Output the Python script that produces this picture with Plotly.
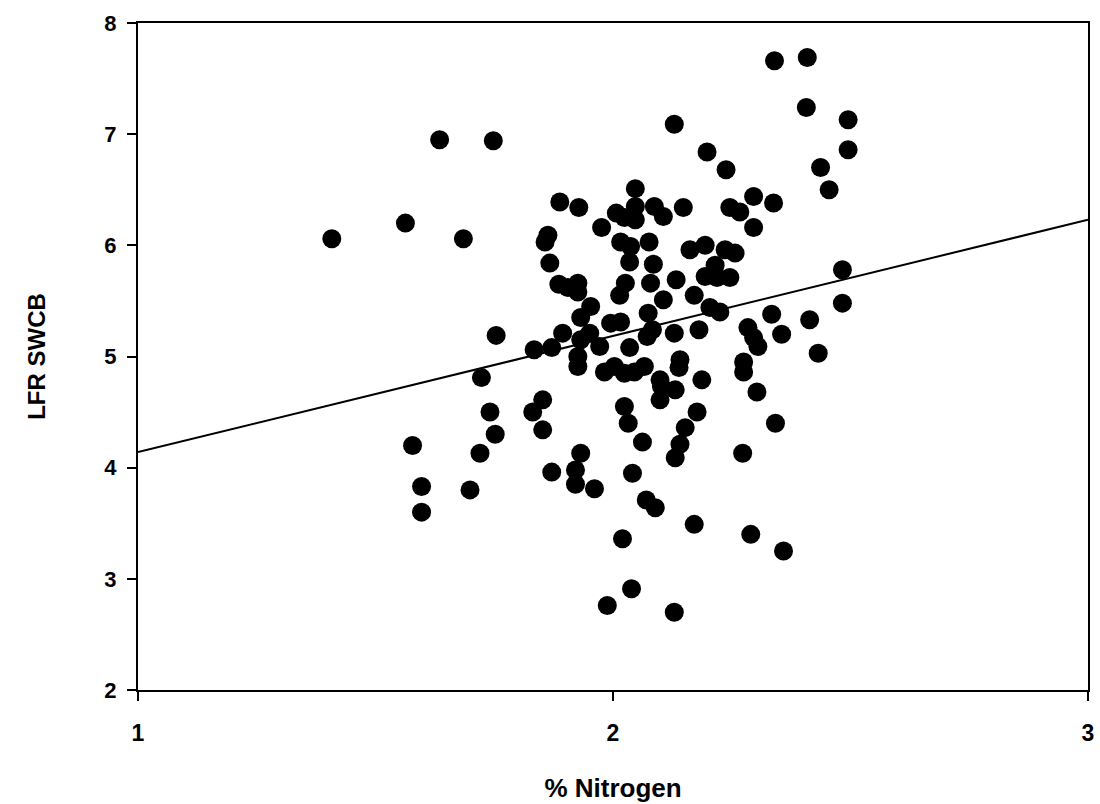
import plotly.graph_objects as go

# % Nitrogen (x) and LFR SWCB (y) values
nitrogen = [
    1.408, 1.563, 1.635, 1.748, 1.685, 1.578, 1.597, 1.597, 1.699, 1.720,
    1.723, 1.741, 1.752, 1.754, 1.834, 1.871, 1.852, 1.831, 1.852, 1.871,
    1.888, 1.928, 1.976, 2.007, 2.024, 2.047, 2.047, 2.047, 2.087, 2.106,
    2.148, 1.863, 1.857, 2.016, 2.037, 2.076, 2.162, 2.035, 1.867, 2.085,
    1.886, 1.905, 1.926, 1.926, 2.026, 2.014, 2.079, 2.133, 2.171, 2.106,
    1.953, 1.932, 2.074, 1.894, 1.995, 2.016, 2.083, 2.129, 2.181, 1.932,
    1.951, 1.926, 1.926, 1.972, 2.035, 2.072, 2.141, 1.982, 2.003, 2.024,
    2.045, 2.066, 2.099, 2.102, 2.099, 2.131, 2.139, 2.187, 2.024, 2.032,
    2.177, 2.152, 2.141, 2.131, 2.062, 1.932, 1.921, 1.921, 1.961, 2.041,
    2.070, 2.089, 2.171, 2.020, 2.039, 1.988, 2.129,
    2.129, 2.407, 2.340, 2.409, 2.495, 2.495, 2.198, 2.238, 2.437, 2.455,
    2.296, 2.338, 2.246, 2.267, 2.296, 2.194, 2.236, 2.257, 2.215, 2.194,
    2.219, 2.246, 2.204, 2.225, 2.483, 2.483, 2.334, 2.414, 2.355, 2.284,
    2.296, 2.305, 2.432, 2.275, 2.275, 2.303, 2.342, 2.273, 2.290, 2.359,
]
lfr_swcb = [
    6.06, 6.20, 6.95, 6.94, 6.06, 4.20, 3.83, 3.60, 3.80, 4.13,
    4.81, 4.50, 4.30, 5.19, 5.06, 5.08, 4.61, 4.50, 4.34, 3.96,
    6.39, 6.34, 6.16, 6.29, 6.25, 6.51, 6.35, 6.23, 6.35, 6.26,
    6.34, 6.09, 6.03, 6.03, 5.99, 6.03, 5.96, 5.85, 5.84, 5.83,
    5.65, 5.62, 5.66, 5.58, 5.66, 5.55, 5.66, 5.69, 5.55, 5.51,
    5.45, 5.35, 5.39, 5.21, 5.30, 5.31, 5.24, 5.21, 5.24, 5.15,
    5.21, 5.00, 4.91, 5.09, 5.08, 5.18, 4.97, 4.86, 4.91, 4.85,
    4.86, 4.91, 4.79, 4.73, 4.61, 4.70, 4.90, 4.79, 4.55, 4.40,
    4.50, 4.36, 4.21, 4.09, 4.23, 4.13, 3.98, 3.85, 3.81, 3.95,
    3.71, 3.64, 3.49, 3.36, 2.91, 2.76, 2.70,
    7.09, 7.24, 7.66, 7.69, 7.13, 6.86, 6.84, 6.68, 6.70, 6.50,
    6.44, 6.38, 6.34, 6.30, 6.16, 6.00, 5.96, 5.93, 5.82, 5.72,
    5.71, 5.71, 5.44, 5.40, 5.78, 5.48, 5.38, 5.33, 5.20, 5.26,
    5.17, 5.09, 5.03, 4.95, 4.86, 4.68, 4.40, 4.13, 3.40, 3.25,
]

# Regression line end points
fit_x = [1, 3]
fit_y = [4.14, 6.23]

x_ticks = [1, 2, 3]
y_ticks = [2, 3, 4, 5, 6, 7, 8]

font_family = "Arial, Liberation Sans, Helvetica, sans-serif"

fig = go.Figure()
fig.add_trace(go.Scatter(
    x=nitrogen, y=lfr_swcb, mode="markers",
    marker=dict(color="black", size=19, line=dict(width=0)),
    showlegend=False, hoverinfo="x+y",
))
fig.add_trace(go.Scatter(
    x=fit_x, y=fit_y, mode="lines",
    line=dict(color="black", width=2),
    showlegend=False, hoverinfo="skip",
))

axis_common = dict(
    showgrid=False, zeroline=False, showline=True, linecolor="black",
    linewidth=2, mirror=True, ticks="outside", ticklen=9, tickwidth=2,
    tickcolor="black",
)

fig.update_layout(
    width=1100, height=804,
    paper_bgcolor="white", plot_bgcolor="white",
    margin=dict(l=138, r=6, t=23, b=114),
    xaxis=dict(range=[1, 3], tickvals=x_ticks, ticktext=[str(v) for v in x_ticks],
               ticklabelstandoff=12,
               tickfont=dict(family=font_family, size=23, color="black", weight="bold"),
               title=dict(text="% Nitrogen", standoff=34,
                          font=dict(family=font_family, size=26, color="black", weight="bold")),
               **axis_common),
    yaxis=dict(range=[2, 8], tickvals=y_ticks, ticktext=[str(v) for v in y_ticks],
               ticklabelstandoff=6,
               tickfont=dict(family=font_family, size=22, color="black", weight="bold"),
               title=dict(text="LFR SWCB", standoff=52,
                          font=dict(family=font_family, size=24, color="black", weight="bold")),
               **axis_common),
)

fig.write_html("out.html")
